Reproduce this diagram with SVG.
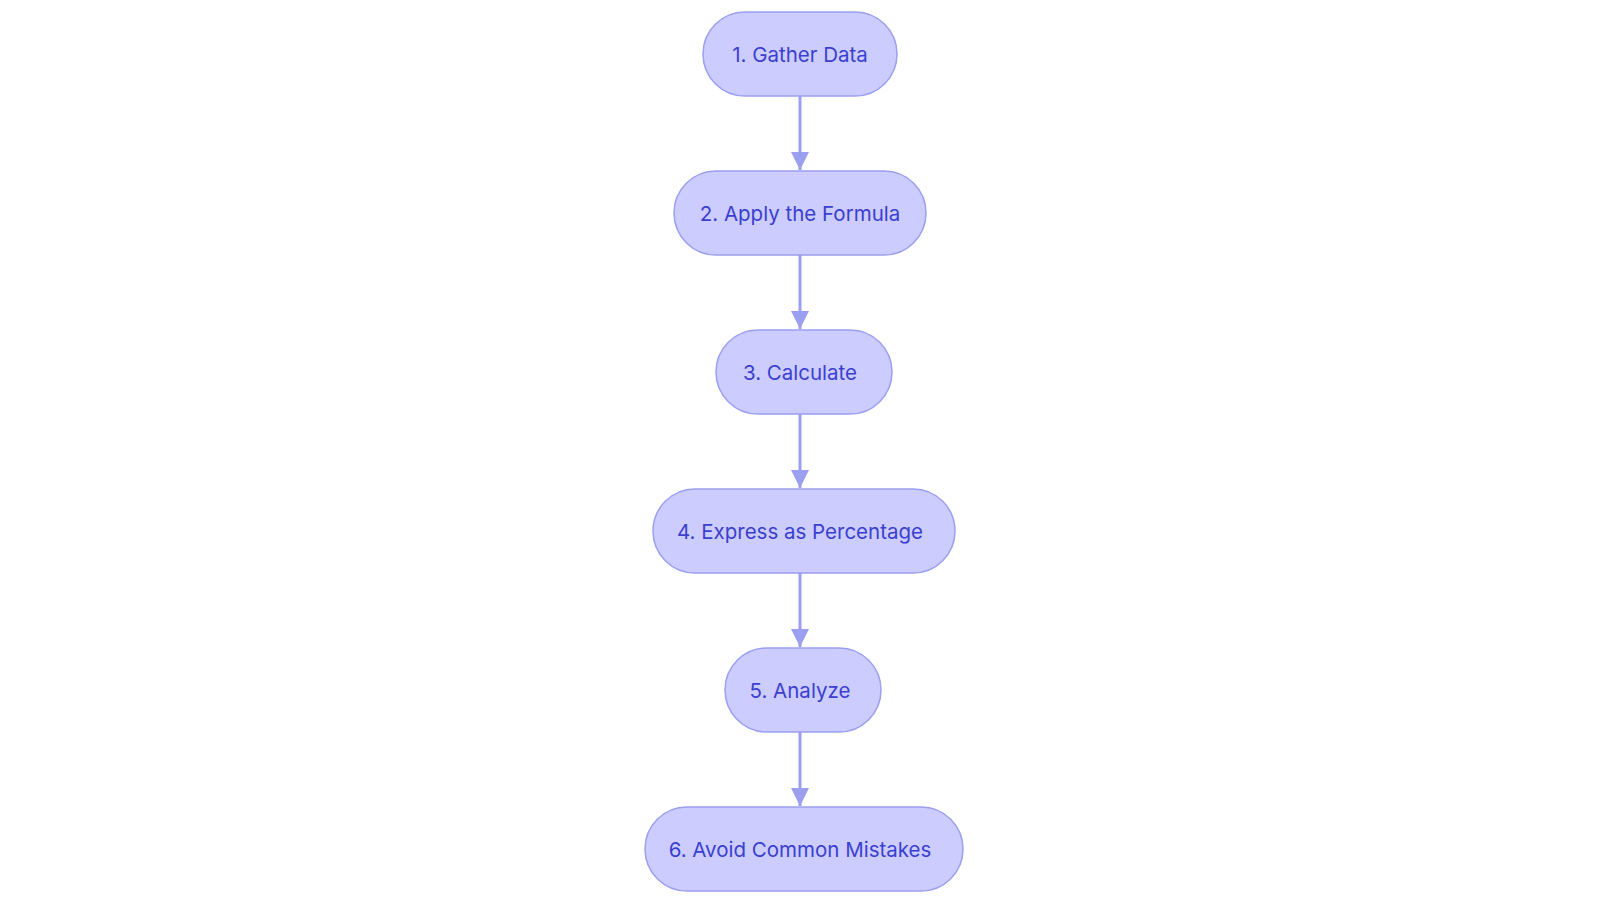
<svg xmlns="http://www.w3.org/2000/svg" width="1600" height="903" viewBox="0 0 1600 903">
<style>
.n rect{fill:#ccccff;stroke:#9a9ff0;stroke-width:1.5}
.n text{font-family:Inter,"Noto Sans",sans-serif;font-size:20.5px;fill:#3b3fcf;text-anchor:middle;dominant-baseline:central}
.e{stroke:#9a9ff0;stroke-width:3;fill:none;marker-end:url(#a)}
</style>
<defs><marker id="a" viewBox="0 0 10 10" refX="10" refY="5" markerWidth="6" markerHeight="6" markerUnits="strokeWidth" orient="auto"><path d="M0,0L10,5L0,10z" fill="#9a9ff0"/></marker></defs>
<rect width="1600" height="903" fill="#fff"/>
<g id="edges">
<line class="e" x1="800" y1="96" x2="800" y2="170"/>
<line class="e" x1="800" y1="255" x2="800" y2="329"/>
<line class="e" x1="800" y1="414" x2="800" y2="488"/>
<line class="e" x1="800" y1="573" x2="800" y2="647"/>
<line class="e" x1="800" y1="732" x2="800" y2="806"/>
</g>
<g id="n1" class="n"><rect x="703" y="12" width="194" height="84" rx="42"/><text x="800" y="54">1. Gather Data</text></g>
<g id="n2" class="n"><rect x="674" y="171" width="252" height="84" rx="42"/><text x="800" y="213">2. Apply the Formula</text></g>
<g id="n3" class="n"><rect x="716" y="330" width="176" height="84" rx="42"/><text x="800" y="372">3. Calculate</text></g>
<g id="n4" class="n"><rect x="653" y="489" width="302" height="84" rx="42"/><text x="800" y="531">4. Express as Percentage</text></g>
<g id="n5" class="n"><rect x="725" y="648" width="156" height="84" rx="42"/><text x="800" y="690">5. Analyze</text></g>
<g id="n6" class="n"><rect x="645" y="807" width="318" height="84" rx="42"/><text x="800" y="849">6. Avoid Common Mistakes</text></g>
</svg>
